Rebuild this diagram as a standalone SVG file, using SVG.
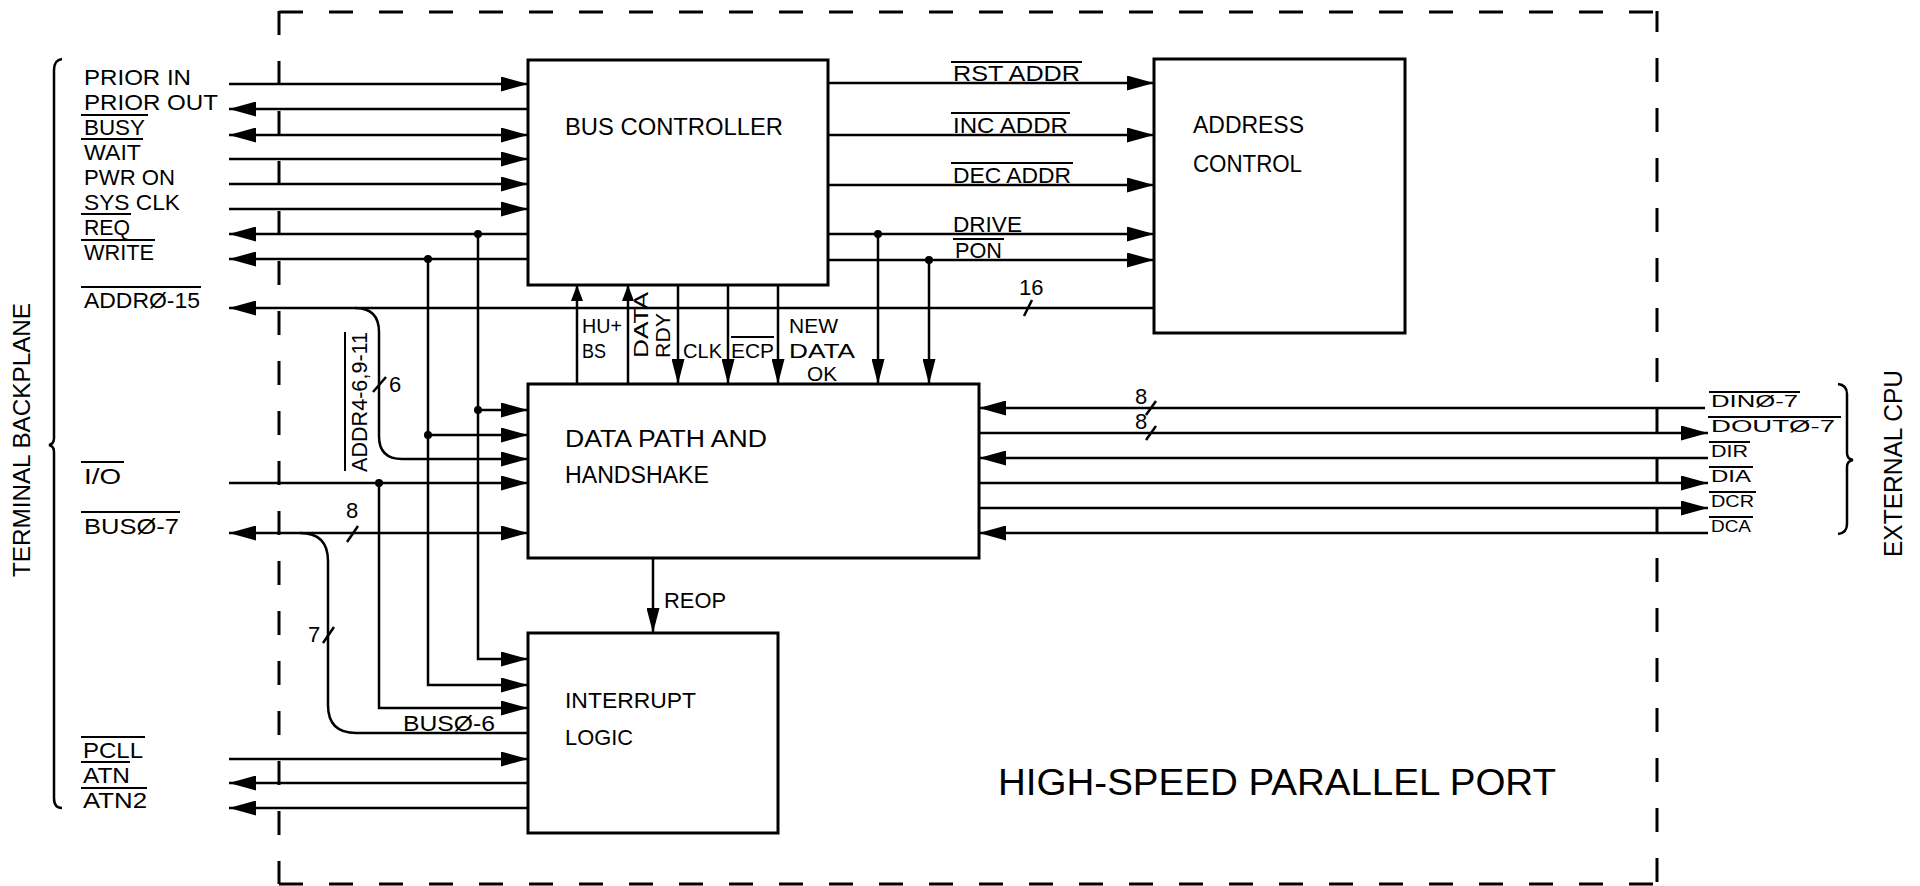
<svg xmlns="http://www.w3.org/2000/svg" width="1920" height="886" viewBox="0 0 1920 886">
<style>
.ln{stroke:#000;stroke-width:2.5;fill:none}
.box{stroke:#000;stroke-width:3;fill:#fff}
.ol{stroke:#000;stroke-width:2;fill:none}
.dash{stroke:#000;stroke-width:3;fill:none;stroke-dasharray:24 26}
.t{font-family:"Liberation Sans",Arial,sans-serif;fill:#000;font-size:22px}
.s{font-size:17px}
.m{font-size:23px}
.big{font-size:36px}
.dot{fill:#000}
</style>
<defs>
<marker id="ah" viewBox="0 0 27 15" refX="27" refY="7.5" markerWidth="27" markerHeight="15" markerUnits="userSpaceOnUse" orient="auto-start-reverse"><path d="M0,0 L27,7.5 L0,15 z"/></marker>
<marker id="av" viewBox="0 0 25 13" refX="25" refY="6.5" markerWidth="25" markerHeight="13" markerUnits="userSpaceOnUse" orient="auto"><path d="M0,0 L25,6.5 L0,13 z"/></marker>
<marker id="as" viewBox="0 0 16 12" refX="16" refY="6" markerWidth="16" markerHeight="12" markerUnits="userSpaceOnUse" orient="auto"><path d="M0,0 L16,6 L0,12 z"/></marker>
</defs>
<rect width="1920" height="886" fill="#fff"/>

<g id="port-boundary">
<path class="dash" d="M279 12 H1657"/>
<path class="dash" d="M279 884 H1657"/>
<path class="dash" d="M279 11 V884"/>
<path class="dash" style="stroke-dashoffset:3" d="M1657 11 V884"/>
<text class="t big" x="998" y="795" textLength="558" lengthAdjust="spacingAndGlyphs">HIGH-SPEED PARALLEL PORT</text>
</g>

<g id="terminal-backplane">
<path class="ln" d="M62 59 Q54 60 54 70 L54 438 Q54 444 49 445 Q54 446 54 452 L54 798 Q54 808 62 808"/>
<text class="t m" transform="translate(30,577) rotate(-90)" textLength="274" lengthAdjust="spacingAndGlyphs">TERMINAL BACKPLANE</text>
<text class="t" x="84" y="85" textLength="107" lengthAdjust="spacingAndGlyphs">PRIOR IN</text>
<text class="t" x="84" y="110" textLength="134" lengthAdjust="spacingAndGlyphs">PRIOR OUT</text>
<text class="t" x="84" y="135" textLength="61" lengthAdjust="spacingAndGlyphs">BUSY</text>
<path class="ol" d="M81 115 H148"/>
<text class="t" x="84" y="160" textLength="57" lengthAdjust="spacingAndGlyphs">WAIT</text>
<path class="ol" d="M81 139 H143"/>
<text class="t" x="84" y="185" textLength="91" lengthAdjust="spacingAndGlyphs">PWR ON</text>
<text class="t" x="84" y="210" textLength="96" lengthAdjust="spacingAndGlyphs">SYS CLK</text>
<text class="t" x="84" y="235" textLength="46" lengthAdjust="spacingAndGlyphs">REQ</text>
<path class="ol" d="M81 214 H131"/>
<text class="t" x="84" y="260" textLength="70" lengthAdjust="spacingAndGlyphs">WRITE</text>
<path class="ol" d="M81 240 H155"/>
<text class="t" x="84" y="308" textLength="116" lengthAdjust="spacingAndGlyphs">ADDRØ-15</text>
<path class="ol" d="M81 287 H201"/>
<text class="t" x="84" y="484" textLength="37" lengthAdjust="spacingAndGlyphs">I/O</text>
<path class="ol" d="M81 462 H124"/>
<text class="t" x="84" y="534" textLength="95" lengthAdjust="spacingAndGlyphs">BUSØ-7</text>
<path class="ol" d="M81 512 H180"/>
<text class="t" x="83" y="758" textLength="60" lengthAdjust="spacingAndGlyphs">PCLL</text>
<path class="ol" d="M81 737 H145"/>
<text class="t" x="83" y="783" textLength="47" lengthAdjust="spacingAndGlyphs">ATN</text>
<path class="ol" d="M81 762 H130"/>
<text class="t" x="83" y="808" textLength="64" lengthAdjust="spacingAndGlyphs">ATN2</text>
<path class="ol" d="M81 788 H147"/>
</g>

<g id="external-cpu">
<path class="ln" d="M1838 384 Q1847 385 1847 394 L1847 453 Q1847 459 1853 460 Q1847 461 1847 467 L1847 524 Q1847 533 1838 534"/>
<text class="t" style="font-size:26px" transform="translate(1902,557) rotate(-90)" textLength="187" lengthAdjust="spacingAndGlyphs">EXTERNAL CPU</text>
<text class="t s" x="1711" y="407" textLength="87" lengthAdjust="spacingAndGlyphs">DINØ-7</text>
<path class="ol" d="M1709 392 H1800"/>
<text class="t s" x="1711" y="432" textLength="124" lengthAdjust="spacingAndGlyphs">DOUTØ-7</text>
<path class="ol" d="M1708 417 H1841"/>
<text class="t s" x="1711" y="457" textLength="37" lengthAdjust="spacingAndGlyphs">DIR</text>
<path class="ol" d="M1709 442 H1750"/>
<text class="t s" x="1711" y="482" textLength="40" lengthAdjust="spacingAndGlyphs">DIA</text>
<path class="ol" d="M1709 467 H1753"/>
<text class="t s" x="1711" y="507" textLength="43" lengthAdjust="spacingAndGlyphs">DCR</text>
<path class="ol" d="M1709 492 H1756"/>
<text class="t s" x="1711" y="532" textLength="40" lengthAdjust="spacingAndGlyphs">DCA</text>
<path class="ol" d="M1709 517 H1753"/>
</g>

<g id="bus-controller">
<rect class="box" x="528" y="60" width="300" height="225"/>
<text class="t m" x="565" y="135" textLength="218" lengthAdjust="spacingAndGlyphs">BUS CONTROLLER</text>
</g>

<g id="address-control">
<rect class="box" x="1154" y="59" width="251" height="274"/>
<text class="t m" x="1193" y="133" textLength="111" lengthAdjust="spacingAndGlyphs">ADDRESS</text>
<text class="t m" x="1193" y="172" textLength="109" lengthAdjust="spacingAndGlyphs">CONTROL</text>
</g>

<g id="data-path-handshake">
<rect class="box" x="528" y="384" width="451" height="174"/>
<text class="t m" x="565" y="447" textLength="202" lengthAdjust="spacingAndGlyphs">DATA PATH AND</text>
<text class="t m" x="565" y="483" textLength="144" lengthAdjust="spacingAndGlyphs">HANDSHAKE</text>
</g>

<g id="interrupt-logic">
<rect class="box" x="528" y="633" width="250" height="200"/>
<text class="t" x="565" y="708" textLength="131" lengthAdjust="spacingAndGlyphs">INTERRUPT</text>
<text class="t" x="565" y="745" textLength="68" lengthAdjust="spacingAndGlyphs">LOGIC</text>
</g>

<g id="connectors">
<path class="ln" marker-end="url(#ah)" d="M229 84 H528"/>
<path class="ln" marker-end="url(#ah)" d="M528 109 H229"/>
<path class="ln" marker-start="url(#ah)" marker-end="url(#ah)" d="M229 135 H528"/>
<path class="ln" marker-end="url(#ah)" d="M229 159 H528"/>
<path class="ln" marker-end="url(#ah)" d="M229 184 H528"/>
<path class="ln" marker-end="url(#ah)" d="M229 209 H528"/>
<path class="ln" marker-end="url(#ah)" d="M528 234 H229"/>
<path class="ln" marker-end="url(#ah)" d="M528 259 H229"/>
<path class="ln" marker-end="url(#ah)" d="M1154 308 H229"/>
<path class="ln" d="M1024 316 L1032 300"/>
<text class="t" x="1019" y="295">16</text>
<path class="ln" marker-end="url(#ah)" d="M355 308 Q379 308 379 332 L379 436 Q379 459 402 459 H528"/>
<path class="ln" d="M373 392 L386 377"/>
<text class="t" x="389" y="392">6</text>
<text class="t" transform="translate(367,472) rotate(-90)" textLength="140" lengthAdjust="spacingAndGlyphs">ADDR4-6,9-11</text>
<path class="ol" d="M345 332 V471"/>
<path class="ln" marker-end="url(#ah)" d="M478 234 V659 H528"/>
<path class="ln" marker-end="url(#ah)" d="M478 410 H528"/>
<path class="ln" marker-end="url(#ah)" d="M428 259 V685 H528"/>
<path class="ln" marker-end="url(#ah)" d="M428 435 H528"/>
<circle class="dot" cx="478" cy="234" r="4"/>
<circle class="dot" cx="428" cy="259" r="4"/>
<circle class="dot" cx="478" cy="410" r="4"/>
<circle class="dot" cx="428" cy="435" r="4"/>
<path class="ln" marker-end="url(#ah)" d="M229 483 H528"/>
<path class="ln" marker-end="url(#ah)" d="M379 483 V708 H528"/>
<circle class="dot" cx="379" cy="483" r="4"/>
<path class="ln" marker-start="url(#ah)" marker-end="url(#ah)" d="M229 533 H528"/>
<path class="ln" d="M347 542 L358 526"/>
<text class="t" x="346" y="518">8</text>
<path class="ln" d="M300 533 Q328 533 328 561 L328 705 Q328 733 356 733 H528"/>
<path class="ln" d="M323 643 L334 627"/>
<text class="t" x="308" y="642">7</text>
<text class="t" x="403" y="731" textLength="92" lengthAdjust="spacingAndGlyphs">BUSØ-6</text>
<path class="ln" marker-end="url(#ah)" d="M229 759 H528"/>
<path class="ln" marker-end="url(#ah)" d="M528 783 H229"/>
<path class="ln" marker-end="url(#ah)" d="M528 808 H229"/>
<path class="ln" marker-end="url(#ah)" d="M828 83 H1154"/>
<text class="t" x="953" y="81" textLength="127" lengthAdjust="spacingAndGlyphs">RST ADDR</text>
<path class="ol" d="M951 62 H1082"/>
<path class="ln" marker-end="url(#ah)" d="M828 135 H1154"/>
<text class="t" x="953" y="133" textLength="115" lengthAdjust="spacingAndGlyphs">INC ADDR</text>
<path class="ol" d="M951 113 H1070"/>
<path class="ln" marker-end="url(#ah)" d="M828 185 H1154"/>
<text class="t" x="953" y="183" textLength="118" lengthAdjust="spacingAndGlyphs">DEC ADDR</text>
<path class="ol" d="M951 163 H1073"/>
<path class="ln" marker-end="url(#ah)" d="M828 234 H1154"/>
<text class="t" x="953" y="232" textLength="69" lengthAdjust="spacingAndGlyphs">DRIVE</text>
<path class="ln" marker-end="url(#ah)" d="M828 260 H1154"/>
<text class="t" x="955" y="258" textLength="47" lengthAdjust="spacingAndGlyphs">PON</text>
<path class="ol" d="M953 239 H1004"/>
<path class="ln" marker-end="url(#av)" d="M878 234 V384"/>
<path class="ln" marker-end="url(#av)" d="M929 260 V384"/>
<circle class="dot" cx="878" cy="234" r="4"/>
<circle class="dot" cx="929" cy="260" r="4"/>
<path class="ln" marker-end="url(#as)" d="M577 384 V285"/>
<text class="t" style="font-size:20px" x="582" y="333" textLength="40" lengthAdjust="spacingAndGlyphs">HU+</text>
<text class="t" style="font-size:20px" x="582" y="358" textLength="24" lengthAdjust="spacingAndGlyphs">BS</text>
<path class="ln" marker-end="url(#as)" d="M628 384 V285"/>
<text class="t" style="font-size:20px" transform="translate(648,358) rotate(-90)" textLength="66" lengthAdjust="spacingAndGlyphs">DATA</text>
<text class="t" style="font-size:20px" transform="translate(670,358) rotate(-90)" textLength="45" lengthAdjust="spacingAndGlyphs">RDY</text>
<path class="ln" marker-end="url(#av)" d="M678 285 V384"/>
<text class="t" style="font-size:20px" x="683" y="358" textLength="39" lengthAdjust="spacingAndGlyphs">CLK</text>
<path class="ln" marker-end="url(#av)" d="M728 285 V384"/>
<text class="t" style="font-size:20px" x="731" y="358" textLength="43" lengthAdjust="spacingAndGlyphs">ECP</text>
<path class="ol" d="M731 337 H774"/>
<path class="ln" marker-end="url(#av)" d="M778 285 V384"/>
<text class="t" style="font-size:20px" x="789" y="333" textLength="49" lengthAdjust="spacingAndGlyphs">NEW</text>
<text class="t" style="font-size:20px" x="789" y="358" textLength="66" lengthAdjust="spacingAndGlyphs">DATA</text>
<text class="t" style="font-size:20px" x="807" y="381" textLength="30" lengthAdjust="spacingAndGlyphs">OK</text>
<path class="ln" marker-end="url(#av)" d="M653 558 V633"/>
<text class="t" x="664" y="608" textLength="62" lengthAdjust="spacingAndGlyphs">REOP</text>
<path class="ln" marker-end="url(#ah)" d="M1705 408 H979"/>
<path class="ln" d="M1146 415 L1156 401"/>
<text class="t" x="1135" y="404">8</text>
<path class="ln" marker-end="url(#ah)" d="M979 433 H1708"/>
<path class="ln" d="M1146 440 L1156 426"/>
<text class="t" x="1135" y="429">8</text>
<path class="ln" marker-end="url(#ah)" d="M1708 458 H979"/>
<path class="ln" marker-end="url(#ah)" d="M979 483 H1708"/>
<path class="ln" marker-end="url(#ah)" d="M979 508 H1708"/>
<path class="ln" marker-end="url(#ah)" d="M1708 533 H979"/>
</g>
</svg>
